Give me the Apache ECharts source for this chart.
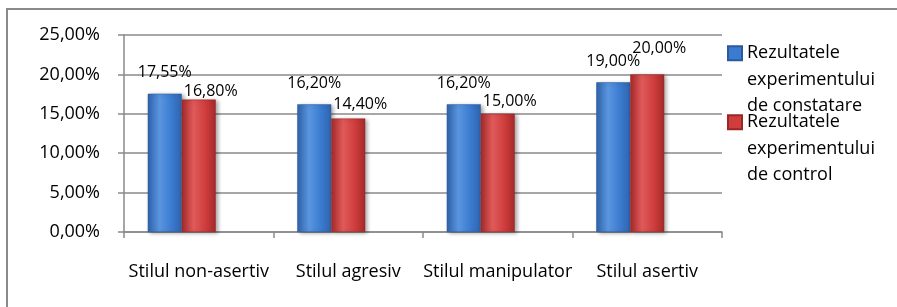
<!DOCTYPE html>
<html>
<head>
<meta charset="utf-8">
<script src="https://cdn.jsdelivr.net/npm/echarts@6/dist/echarts.min.js"></script>
<style>
  html, body { margin: 0; padding: 0; background: #fff; }
  #chart { width: 897px; height: 307px; }
</style>
</head>
<body>
<div id="chart"></div>
<script>
// -- data --
let categories = ['Stilul non-asertiv', 'Stilul agresiv', 'Stilul manipulator', 'Stilul asertiv'];
let constatare = [17.55, 16.20, 16.20, 19.00];
let control = [16.80, 14.40, 15.00, 20.00];
let seriesNames = ['Rezultatele\nexperimentului\nde constatare', 'Rezultatele\nexperimentului\nde control'];
let yTicks = { min: 0, max: 25, step: 5 };

let font = 'Open Sans';
// labels of the red bars sit at uneven heights in the original
let redLabelLift = [0, 6, 4, 18];

function pct(v) {
  return v.toFixed(2).replace('.', ',') + '%';
}

function barFill(dark, mid, light) {
  return new echarts.graphic.LinearGradient(0, 0, 1, 0, [
    { offset: 0, color: dark },
    { offset: 0.35, color: light },
    { offset: 0.7, color: mid },
    { offset: 1, color: dark }
  ]);
}

let blue = barFill('#2f64ad', '#3b7bd0', '#5a95df');
let red = barFill('#a62a2a', '#cf3d3d', '#e05a5a');

let legendBase = {
  orient: 'vertical',
  left: 727,
  padding: 0,
  itemWidth: 14,
  itemHeight: 14,
  itemGap: 0,
  selectedMode: false,
  // two empty lines on top keep the icon level with the first text line
  formatter: function (name) { return '\n\n' + name; },
  textStyle: {
    fontFamily: font,
    fontSize: 18,
    color: '#000',
    lineHeight: 26.5
  }
};

let option = {
  animation: false,
  textStyle: { fontFamily: font },
  graphic: [{
    type: 'rect',
    shape: { x: 7, y: 9, width: 1000, height: 500 },
    style: { fill: 'none', stroke: '#8a8a8a', lineWidth: 2 },
    silent: true
  }],
  legend: [
    Object.assign({}, legendBase, {
      top: -13,
      data: [{ name: seriesNames[0], icon: 'rect', itemStyle: { color: '#3b7bd0' } }]
    }),
    Object.assign({}, legendBase, {
      top: 56,
      data: [{ name: seriesNames[1], icon: 'rect', itemStyle: { color: '#cf3d3d' } }]
    })
  ],
  grid: {
    left: 124,
    right: 175,
    top: 35,
    bottom: 75
  },
  xAxis: {
    type: 'category',
    data: categories,
    axisLine: { lineStyle: { color: '#8a8a8a', width: 1.5 } },
    axisTick: { show: true, length: 6, lineStyle: { color: '#8a8a8a', width: 1.5 } },
    axisLabel: { fontFamily: font, fontSize: 18, color: '#000', margin: 31, interval: 0 }
  },
  yAxis: {
    type: 'value',
    min: yTicks.min,
    max: yTicks.max,
    interval: yTicks.step,
    axisLine: { show: true, lineStyle: { color: '#8a8a8a', width: 1.5 } },
    axisTick: { show: true, length: 6, lineStyle: { color: '#8a8a8a', width: 1.5 } },
    splitLine: { lineStyle: { color: '#8a8a8a', width: 1.5 } },
    axisLabel: {
      fontFamily: font, fontSize: 18, color: '#000', margin: 24,
      formatter: pct
    }
  },
  series: [
    {
      name: seriesNames[0],
      type: 'bar',
      data: constatare,
      barWidth: 34,
      barGap: '0%',
      itemStyle: {
        color: blue,
        borderColor: '#2a5a9e',
        borderWidth: 0.5,
        shadowBlur: 4,
        shadowColor: 'rgba(0,0,0,0.35)',
        shadowOffsetX: 2,
        shadowOffsetY: 1
      },
      label: {
        show: true,
        position: 'top',
        distance: 13,
        fontFamily: font,
        fontSize: 16,
        color: '#000',
        formatter: function (p) { return pct(p.value); }
      }
    },
    {
      name: seriesNames[1],
      type: 'bar',
      data: control.map(function (v, i) {
        return { value: v, label: { distance: redLabelLift[i] } };
      }),
      barWidth: 34,
      barGap: '0%',
      itemStyle: {
        color: red,
        borderColor: '#9a2626',
        borderWidth: 0.5,
        shadowBlur: 4,
        shadowColor: 'rgba(0,0,0,0.35)',
        shadowOffsetX: 2,
        shadowOffsetY: 1
      },
      label: {
        show: true,
        position: 'top',
        offset: [12, 0],
        fontFamily: font,
        fontSize: 16,
        color: '#000',
        formatter: function (p) { return pct(p.value); }
      }
    },
    {
      // empty slot: the original leaves room behind the bars (3-D depth)
      name: 'spacer',
      type: 'bar',
      data: [],
      barWidth: 34,
      barGap: '0%',
      silent: true
    }
  ]
};

let myChart = echarts.init(document.getElementById('chart'));
myChart.setOption(option);
</script>
</body>
</html>
